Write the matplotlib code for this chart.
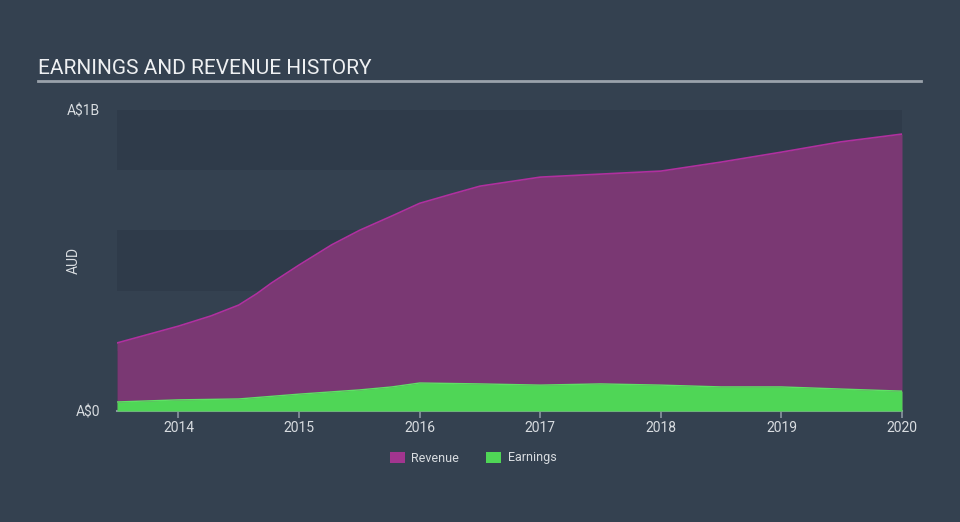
import matplotlib
matplotlib.use("Agg")
import matplotlib.pyplot as plt
import numpy as np

years = [2013.49, 2014.0, 2014.27, 2014.5, 2014.65, 2014.77, 2015.0, 2015.27, 2015.5, 2015.77, 2016.0,
         2016.26, 2016.5, 2017.0, 2017.5, 2018.0, 2018.5, 2019.0, 2019.49, 2020.0]
revenue = [0.226, 0.282, 0.316, 0.352, 0.390, 0.425, 0.485, 0.552, 0.60, 0.648, 0.69,
           0.72, 0.747, 0.777, 0.787, 0.797, 0.827, 0.86, 0.894, 0.92]
earn_years = [2013.49, 2014.0, 2014.5, 2015.0, 2015.5, 2015.77, 2016.0, 2016.5, 2017.0,
              2017.5, 2018.0, 2018.5, 2019.0, 2019.49, 2020.0]
earnings = [0.030, 0.037, 0.040, 0.056, 0.070, 0.080, 0.093, 0.090, 0.086,
            0.090, 0.086, 0.080, 0.080, 0.073, 0.066]
xticks = [2014, 2015, 2016, 2017, 2018, 2019, 2020]
ytick_vals = [0, 1.0]
ytick_labels = ["A$0", "A$1B"]

BG = "#344150"
BAND = "#2f3b4a"
plt.rcParams['font.family'] = ['Roboto', 'DejaVu Sans']

fig = plt.figure(figsize=(9.6, 5.22), dpi=100)
fig.patch.set_facecolor(BG)
ax = fig.add_axes([117/960, 1-411/522, (902-117)/960, (411-110)/522])
ax.set_facecolor(BG)
xmin, xmax = years[0], years[-1]
ax.set_xlim(xmin, xmax)
ax.set_ylim(0, 1.0)

for lo in [0.8, 0.4, 0.0]:
    ax.axhspan(lo, lo + 0.2, color=BAND, zorder=0, lw=0)

ax.fill_between(years, revenue, 0, color="#7a3873", lw=0, zorder=2)
ax.plot(years, revenue, color="#b0309f", lw=1.2, zorder=3)
ax.fill_between(earn_years, earnings, 0, color="#4fd656", lw=0, zorder=4)
ax.plot(earn_years, earnings, color="#5fe065", lw=1, zorder=5)

for s in ["top", "right", "left"]:
    ax.spines[s].set_visible(False)
ax.spines["bottom"].set_color("#8a94a0")
ax.spines["bottom"].set_linewidth(1.5)
ax.set_xticks(xticks)
ax.set_xticklabels([str(x) for x in xticks])
ax.tick_params(axis="x", colors="#8a94a0", labelcolor="#d8dce0", length=5, width=1.2, labelsize=10, pad=2)
ax.set_yticks(ytick_vals)
ax.set_yticklabels(ytick_labels)
ax.tick_params(axis="y", length=0, labelcolor="#d8dce0", labelsize=10, pad=14)
for lbl in ax.get_yticklabels():
    pass
ax.tick_params(axis="y", pad=12)
ax.set_ylabel("AUD", color="#d8dce0", fontsize=10)
ax.yaxis.set_label_coords(-36/785, 0.5)

fig.text(38/960, 1-68/522, "EARNINGS AND REVENUE HISTORY", color="#eef0f2", fontsize=15,
         va="center", ha="left")
fig.add_artist(plt.Line2D([38/960, 921/960], [1-81/522, 1-81/522], color="#9aa2ab", lw=2))

from matplotlib.patches import Patch
handles = [Patch(facecolor="#a2358f", edgecolor="none", label="Revenue"),
           Patch(facecolor="#4fd656", edgecolor="none", label="Earnings")]
leg = fig.legend(handles=handles, loc="center", bbox_to_anchor=(473/960, 1-458/522), ncol=2,
                 frameon=False, fontsize=9, handlelength=1.2, handleheight=1.0,
                 columnspacing=2.2, handletextpad=0.5)
for t in leg.get_texts():
    t.set_color("#d8dce0")

fig.savefig("out.png", dpi=100, facecolor=BG)
